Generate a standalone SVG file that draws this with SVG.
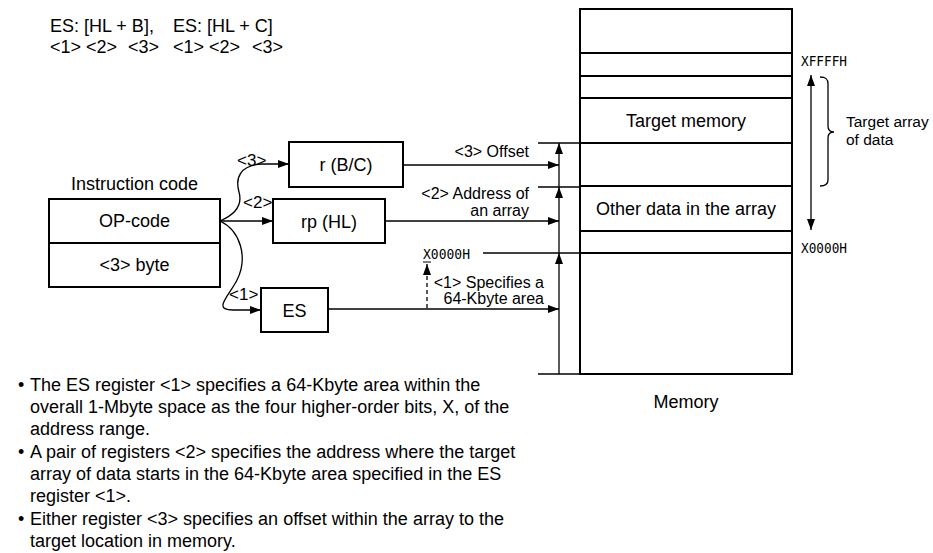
<svg xmlns="http://www.w3.org/2000/svg" width="933" height="553" viewBox="0 0 933 553">
<style>
text{font-family:"Liberation Sans",Arial,sans-serif;fill:#000}
.t18{font-size:18px}
.t17{font-size:17px}
.lab{font-size:16px}
.side{font-size:15.5px}
.mono{font-family:"DejaVu Sans Mono","Liberation Mono",monospace;font-size:14.5px}
.box{fill:#fff;stroke:#000;stroke-width:2}
.ln{fill:none;stroke:#000;stroke-width:1.3}
.mem{fill:none;stroke:#000;stroke-width:2}
.mid{text-anchor:middle}
.end{text-anchor:end}
</style>
<defs>
<marker id="ah" markerUnits="userSpaceOnUse" markerWidth="11" markerHeight="8" refX="11" refY="4" orient="auto-start-reverse">
<path d="M0,0 L11,4 L0,8 z" fill="#000"/>
</marker>
</defs>

<g id="syntax">
<text class="t18" x="50" y="32">ES: [HL + B],</text>
<text class="t18" x="173" y="32">ES: [HL + C]</text>
<text class="t18" x="50" y="53">&lt;1&gt;</text>
<text class="t18" x="86" y="53">&lt;2&gt;</text>
<text class="t18" x="128" y="53">&lt;3&gt;</text>
<text class="t18" x="173" y="53">&lt;1&gt;</text>
<text class="t18" x="209" y="53">&lt;2&gt;</text>
<text class="t18" x="252" y="53">&lt;3&gt;</text>
</g>

<g id="instruction">
<text class="t18 mid" x="134.5" y="190">Instruction code</text>
<rect class="box" x="49" y="199" width="171" height="88"/>
<line class="mem" x1="49" y1="243" x2="220" y2="243"/>
<text class="t18 mid" x="134.5" y="227">OP-code</text>
<text class="t18 mid" x="134.5" y="271">&lt;3&gt; byte</text>
</g>

<g id="r">
<rect class="box" x="289" y="142" width="114" height="45"/>
<text class="t18 mid" x="346" y="171">r (B/C)</text>
</g>
<g id="rp">
<rect class="box" x="273" y="199" width="112" height="44"/>
<text class="t18 mid" x="329" y="228">rp (HL)</text>
</g>
<g id="es">
<rect class="box" x="261" y="288" width="67" height="44"/>
<text class="t18 mid" x="294.5" y="317">ES</text>
</g>

<g id="memory">
<rect class="mem" x="580" y="9" width="212" height="365"/>
<line class="mem" x1="580" y1="53" x2="792" y2="53"/>
<line class="mem" x1="580" y1="76" x2="792" y2="76"/>
<line class="mem" x1="580" y1="98" x2="792" y2="98"/>
<line class="mem" x1="580" y1="143" x2="792" y2="143"/>
<line class="mem" x1="580" y1="186" x2="792" y2="186"/>
<line class="mem" x1="580" y1="231" x2="792" y2="231"/>
<line class="mem" x1="580" y1="253" x2="792" y2="253"/>
<text class="t18 mid" x="686" y="127">Target memory</text>
<text class="t18 mid" x="686" y="215">Other data in the array</text>
<text class="t18 mid" x="686" y="408">Memory</text>
<text class="mono" x="801" y="66" textLength="46" lengthAdjust="spacingAndGlyphs">XFFFFH</text>
<text class="mono" x="801" y="253" textLength="46" lengthAdjust="spacingAndGlyphs">X0000H</text>
<path class="ln" d="M820,77 C826,77 828,79 828,84 L828,126 C828,130 830,132 834,132 C830,132 828,134 828,138 L828,180 C828,184 826,186 820,186"/>
<text class="side" x="846" y="127">Target array</text>
<text class="side" x="846" y="145">of data</text>
</g>

<g id="connectors">
<path class="ln" d="M220,221 C234,215 243,206 239,192 C235,178 240,165 262,164 L289,164" marker-end="url(#ah)"/>
<line class="ln" x1="220" y1="221" x2="273" y2="221" marker-end="url(#ah)"/>
<path class="ln" d="M220,221 C241,231 248,258 237,280 C229,296 212,310 233,310 L261,310" marker-end="url(#ah)"/>
<line class="ln" x1="403" y1="165" x2="559" y2="165" marker-end="url(#ah)"/>
<line class="ln" x1="385" y1="221" x2="559" y2="221" marker-end="url(#ah)"/>
<line class="ln" x1="328" y1="309" x2="559" y2="309" marker-end="url(#ah)"/>
<line class="ln" x1="559" y1="187" x2="559" y2="143" marker-end="url(#ah)"/>
<line class="ln" x1="559" y1="253" x2="559" y2="187" marker-end="url(#ah)"/>
<line class="ln" x1="559" y1="374" x2="559" y2="253" marker-end="url(#ah)"/>
<line class="ln" x1="538" y1="143" x2="580" y2="143"/>
<line class="ln" x1="538" y1="187" x2="580" y2="187"/>
<line class="ln" x1="483" y1="253" x2="580" y2="253"/>
<line class="ln" x1="538" y1="374" x2="580" y2="374"/>
<line class="ln" x1="811" y1="75" x2="811" y2="230" marker-start="url(#ah)" marker-end="url(#ah)"/>
<line class="ln" x1="427" y1="308" x2="427" y2="264" stroke-dasharray="4,3" marker-end="url(#ah)"/>
</g>

<g id="labels">
<text class="t17" x="237" y="166">&lt;3&gt;</text>
<text class="t17" x="243" y="208">&lt;2&gt;</text>
<text class="t17" x="229" y="300">&lt;1&gt;</text>
<text class="lab end" x="529" y="157">&lt;3&gt; Offset</text>
<text class="lab end" x="529" y="199">&lt;2&gt; Address of</text>
<text class="lab end" x="529" y="216">an array</text>
<text class="mono" x="423" y="259" textLength="47" lengthAdjust="spacingAndGlyphs">X0000H</text>
<line x1="423" y1="262" x2="431" y2="262" stroke="#000" stroke-width="1"/>
<text class="lab end" x="544" y="288">&lt;1&gt; Specifies a</text>
<text class="lab end" x="544" y="304">64-Kbyte area</text>
</g>

<g id="notes">
<text class="t18" x="18" y="391">•</text>
<text class="t18" x="30" y="391">The ES register &lt;1&gt; specifies a 64-Kbyte area within the</text>
<text class="t18" x="30" y="413">overall 1-Mbyte space as the four higher-order bits, X, of the</text>
<text class="t18" x="30" y="435">address range.</text>
<text class="t18" x="18" y="458">•</text>
<text class="t18" x="30" y="458">A pair of registers &lt;2&gt; specifies the address where the target</text>
<text class="t18" x="30" y="480">array of data starts in the 64-Kbyte area specified in the ES</text>
<text class="t18" x="30" y="502">register &lt;1&gt;.</text>
<text class="t18" x="18" y="525">•</text>
<text class="t18" x="30" y="525">Either register &lt;3&gt; specifies an offset within the array to the</text>
<text class="t18" x="30" y="547">target location in memory.</text>
</g>
</svg>
